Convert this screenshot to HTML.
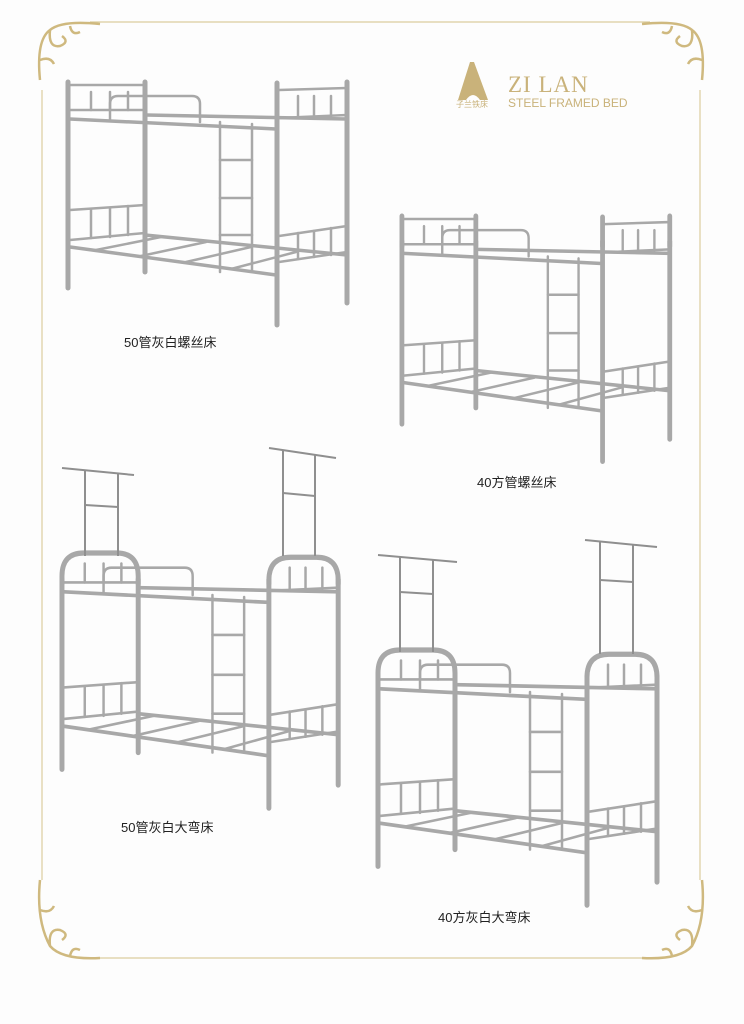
<!DOCTYPE html>
<html><head><meta charset="utf-8"><style>
html,body{margin:0;padding:0;background:#fff}
svg{display:block}
text{font-family:"Liberation Sans","Noto Sans CJK SC",sans-serif}
</style></head><body>
<svg width="744" height="1024" viewBox="0 0 744 1024" xmlns="http://www.w3.org/2000/svg">
<rect width="744" height="1024" fill="#fdfdfd"/>
<!-- frame -->
<g stroke="#dccd9e" stroke-width="1.2" fill="none">
<line x1="90" y1="22" x2="650" y2="22"/>
<line x1="90" y1="958" x2="650" y2="958"/>
<line x1="42" y1="90" x2="42" y2="880"/>
<line x1="700" y1="90" x2="700" y2="880"/>
</g>
<g fill="none" stroke="#cfb97f" stroke-width="2.5">
<path d="M40,80 Q36,40 50,30 Q62,20 100,24 M50,30 Q48,48 60,46 Q70,42 62,36 M40,60 Q50,56 54,64 M70,26 Q72,36 80,32"/>
<path d="M702,80 Q706,40 692,30 Q680,20 642,24 M692,30 Q694,48 682,46 Q672,42 680,36 M702,60 Q692,56 688,64 M672,26 Q670,36 662,32"/>
<path d="M40,880 Q36,920 50,946 Q62,960 100,958 M50,946 Q48,928 60,930 Q70,934 62,940 M40,910 Q50,914 54,906 M70,956 Q72,946 80,950"/>
<path d="M702,880 Q706,920 692,946 Q680,960 642,958 M692,946 Q694,928 682,930 Q672,934 680,940 M702,910 Q692,914 688,906 M672,956 Q670,946 662,950"/>
</g>
<!-- logo -->
<g fill="#c9b27a">
<path d="M458,100 L470,62 L474,62 L488,100 L480,100 Q473,90 466,100Z"/>
<text x="508" y="92" style="font-family:'Liberation Serif',serif" font-size="23" letter-spacing="1">ZI LAN</text>
<text x="508" y="107" font-size="12">STEEL FRAMED BED</text>
<text x="456" y="107" font-size="8">子兰铁床</text>
</g>
<defs>
<g id="base" fill="none" stroke="#a8a8a8" stroke-linecap="round">
<g stroke-width="5">
<line x1="2" y1="25" x2="2" y2="206"/>
<line x1="79" y1="25" x2="79" y2="190"/>
<line x1="211" y1="25" x2="211" y2="243"/>
<line x1="281" y1="25" x2="281" y2="221"/>
</g>
<g stroke-width="3.5">
<line x1="4" y1="37" x2="210" y2="47"/>
<line x1="80" y1="33" x2="281" y2="37"/>
<line x1="4" y1="165" x2="210" y2="193"/>
<line x1="79" y1="153" x2="281" y2="173"/>
</g>
<g stroke-width="2.5">
<line x1="30" y1="168" x2="95" y2="155"/>
<line x1="75" y1="174" x2="140" y2="160"/>
<line x1="120" y1="180" x2="185" y2="165"/>
<line x1="165" y1="187" x2="230" y2="170"/>
<path d="M44,38 L44,22 Q44,14 52,14 L126,14 Q134,14 134,22 L134,40"/>
<line x1="154" y1="40" x2="154" y2="190"/>
<line x1="186" y1="42" x2="186" y2="188"/>
<line x1="154" y1="78" x2="186" y2="78"/>
<line x1="154" y1="116" x2="186" y2="116"/>
<line x1="154" y1="153" x2="186" y2="153"/>
<line x1="4" y1="128" x2="79" y2="123"/>
<line x1="4" y1="158" x2="79" y2="151"/>
<line x1="25" y1="127" x2="25" y2="156"/>
<line x1="44" y1="126" x2="44" y2="155"/>
<line x1="62" y1="124" x2="62" y2="153"/>
<line x1="213" y1="154" x2="281" y2="144"/>
<line x1="213" y1="180" x2="281" y2="170"/>
<line x1="232" y1="151" x2="232" y2="177"/>
<line x1="248" y1="149" x2="248" y2="175"/>
<line x1="265" y1="146" x2="265" y2="173"/>
<line x1="4" y1="28" x2="79" y2="28"/>
<line x1="213" y1="36" x2="281" y2="33"/>
<line x1="25" y1="10" x2="25" y2="28"/>
<line x1="44" y1="10" x2="44" y2="28"/>
<line x1="62" y1="10" x2="62" y2="28"/>
<line x1="232" y1="14" x2="232" y2="35"/>
<line x1="248" y1="14" x2="248" y2="35"/>
<line x1="265" y1="14" x2="265" y2="34"/>
</g>
</g>
<g id="square" fill="none" stroke="#a8a8a8" stroke-linecap="round">
<g stroke-width="5"><line x1="2" y1="0" x2="2" y2="30"/><line x1="79" y1="0" x2="79" y2="30"/><line x1="211" y1="1" x2="211" y2="30"/><line x1="281" y1="0" x2="281" y2="30"/></g>
<g stroke-width="2.5"><line x1="2" y1="3" x2="79" y2="3"/><line x1="213" y1="8" x2="281" y2="6"/></g>
</g>
<g id="arch" fill="none" stroke="#a8a8a8" stroke-width="5">
<path d="M2,30 L2,22 Q2,0 24,0 L57,0 Q79,0 79,22 L79,30"/>
<path d="M211,30 L211,26 Q211,4 233,4 L259,4 Q281,4 281,26 L281,30"/>
</g>
</defs>
<g transform="translate(66,82)"><use href="#base"/><use href="#square"/></g>
<g transform="translate(400,216) scale(0.96,1.01)"><use href="#base"/><use href="#square"/></g>
<g transform="translate(60,553) scale(0.99,1.05)"><use href="#base"/><use href="#arch"/></g>
<g transform="translate(376,650) scale(1,1.05)"><use href="#base"/><use href="#arch"/></g>
<!-- poles -->
<g stroke="#8f8f8f" stroke-width="2" fill="none">
<line x1="62" y1="468" x2="134" y2="475"/><line x1="85" y1="470" x2="85" y2="556"/><line x1="118" y1="473" x2="118" y2="556"/><line x1="85" y1="505" x2="118" y2="507"/>
<line x1="269" y1="448" x2="336" y2="458"/><line x1="283" y1="450" x2="283" y2="556"/><line x1="315" y1="454" x2="315" y2="556"/><line x1="283" y1="493" x2="315" y2="496"/>
<line x1="378" y1="555" x2="457" y2="562"/><line x1="400" y1="557" x2="400" y2="652"/><line x1="433" y1="560" x2="433" y2="652"/><line x1="400" y1="592" x2="433" y2="594"/>
<line x1="585" y1="540" x2="657" y2="547"/><line x1="600" y1="541" x2="600" y2="654"/><line x1="633" y1="544" x2="633" y2="654"/><line x1="600" y1="580" x2="633" y2="582"/>
</g>
<g font-size="13" fill="#222">
<text x="124" y="347">50管灰白螺丝床</text>
<text x="477" y="487">40方管螺丝床</text>
<text x="121" y="832">50管灰白大弯床</text>
<text x="438" y="922">40方灰白大弯床</text>
</g>
</svg>
</body></html>
